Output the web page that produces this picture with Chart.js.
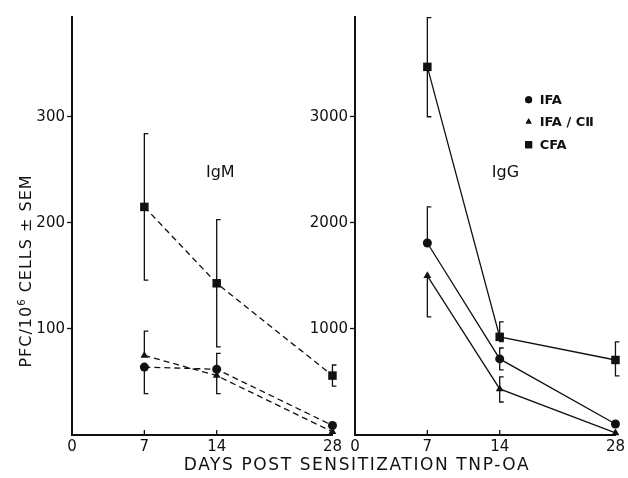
<!DOCTYPE html>
<html><head><meta charset="utf-8">
<script src="https://cdn.jsdelivr.net/npm/chart.js@4.4.0/dist/chart.umd.min.js"></script>
<style>
html,body{margin:0;padding:0;background:#fff;}
#wrap{position:relative;width:628px;height:478px;overflow:hidden;font-family:"DejaVu Sans",sans-serif;color:#111;background:#fff;}
#c1{position:absolute;left:0;top:0;}
#c2{position:absolute;left:300px;top:0;}
#xt{position:absolute;left:0;width:714px;top:454px;text-align:center;font-size:17px;letter-spacing:1.6px;white-space:nowrap;}
#yt{position:absolute;left:-128px;top:261px;width:300px;height:20px;line-height:20px;text-align:center;font-size:16px;letter-spacing:1px;transform:rotate(-90deg);white-space:nowrap;}
</style></head>
<body>
<div id="wrap">
<canvas id="c1" width="345" height="478"></canvas>
<canvas id="c2" width="328" height="478"></canvas>
<div id="yt">PFC/10<sup style="font-size:10px">6</sup> CELLS ± SEM</div>
<div id="xt">DAYS POST SENSITIZATION TNP-OA</div>
</div>
<script>
// ---- data ----
const dayLabels = ['0', '7', '14', '28'];
const dayPos = [0, 1, 2, 3.6];          // axis positions of the day labels (broken time axis)
const sampleDays = [1, 2, 3];           // indexes into dayPos for days 7, 14, 28
const seriesNames = ['IFA', 'IFA / CⅡ', 'CFA'];

const igmIFA      = [64, 62, 9];
const igmIFAHi    = [null, 77, null];
const igmIFALo    = [39, null, null];
const igmIFAC     = [75, 56, 3];
const igmIFACHi   = [98, null, null];
const igmIFACLo   = [null, 39, null];
const igmCFA      = [215, 143, 56];
const igmCFAHi    = [284, 203, 66];
const igmCFALo    = [146, 83, 46];

const iggIFA      = [1810, 717, 104];
const iggIFAHi    = [2150, 820, null];
const iggIFALo    = [null, 613, null];
const iggIFAC     = [1500, 434, 20];
const iggIFACHi   = [null, 547, null];
const iggIFACLo   = [1113, 311, null];
const iggCFA      = [3470, 925, 707];
const iggCFAHi    = [3934, 1066, 877];
const iggCFALo    = [3000, 880, 557];

const igmTicks = [100, 200, 300];
const iggTicks = [1000, 2000, 3000];
const igmMax = 394;
const iggMax = 3940;

// ---- helpers ----
const INK = '#111';
const pts = vals => vals.map((v, i) => ({x: dayPos[sampleDays[i]], y: v}));
const styles = [
  {pointStyle: 'circle', radius: 4.5},
  {pointStyle: 'triangle', radius: 4.5},
  {pointStyle: 'rect', radius: 6}
];
function ds(i, vals, hi, lo, dashed) {
  return {
    label: seriesNames[i], data: pts(vals), errHi: hi, errLo: lo,
    borderColor: INK, backgroundColor: INK, borderWidth: 1.3,
    borderDash: dashed ? [6, 4] : [],
    pointStyle: styles[i].pointStyle, pointRadius: styles[i].radius,
    pointBorderWidth: 0, pointBackgroundColor: INK, tension: 0, clip: false
  };
}

const errorBars = {
  id: 'errorBars',
  beforeDatasetsDraw(chart) {
    const {ctx, scales: {x, y}} = chart;
    ctx.save();
    ctx.strokeStyle = INK; ctx.lineWidth = 1.3;
    chart.data.datasets.forEach(d => {
      d.data.forEach((p, i) => {
        const px = x.getPixelForValue(p.x), py = y.getPixelForValue(p.y);
        [d.errHi[i], d.errLo[i]].forEach(e => {
          if (e == null) return;
          const ey = y.getPixelForValue(e);
          ctx.beginPath();
          ctx.moveTo(px, py); ctx.lineTo(px, ey); ctx.lineTo(px + 4, ey);
          ctx.stroke();
        });
      });
    });
    ctx.restore();
  }
};

const innerTicks = {
  id: 'innerTicks',
  afterDraw(chart) {
    const {ctx, scales: {x}, chartArea} = chart;
    ctx.save(); ctx.strokeStyle = INK; ctx.lineWidth = 1.3;
    dayPos.slice(1).forEach(v => {
      const px = x.getPixelForValue(v);
      ctx.beginPath(); ctx.moveTo(px, chartArea.bottom); ctx.lineTo(px, chartArea.bottom - 5); ctx.stroke();
    });
    ctx.restore();
  }
};

const annot = {
  id: 'annot',
  afterDraw(chart, args, opts) {
    const {ctx, scales: {x, y}} = chart;
    ctx.save();
    ctx.fillStyle = INK;
    ctx.font = '16px "DejaVu Sans"';
    ctx.textAlign = 'center'; ctx.textBaseline = 'middle';
    ctx.fillText(opts.label, x.getPixelForValue(opts.lx), y.getPixelForValue(opts.ly));
    if (opts.legend) {
      ctx.font = 'bold 13px "DejaVu Sans"';
      ctx.textAlign = 'left';
      opts.legend.rows.forEach((ly, i) => {
        const px = x.getPixelForValue(opts.legend.x), py = y.getPixelForValue(ly);
        Chart.helpers.drawPoint(ctx, {pointStyle: styles[i].pointStyle, radius: i === 2 ? 5 : 3.5, borderWidth: 0}, px, py);
        ctx.fill();
        ctx.fillText(seriesNames[i], px + 11, py + 1);
      });
    }
    ctx.restore();
  }
};

function makeChart(id, datasets, yMax, yTicks, yWidth, padRight, annotOpts) {
  return new Chart(document.getElementById(id), {
    type: 'line',
    data: {datasets},
    options: {
      responsive: false, animation: false,
      layout: {padding: {top: 17, right: padRight, left: 0, bottom: 0}},
      plugins: {legend: {display: false}, tooltip: {enabled: false}, annot: annotOpts},
      scales: {
        x: {
          type: 'linear', min: 0, max: dayPos[dayPos.length - 1],
          afterBuildTicks: s => { s.ticks = dayPos.map(v => ({value: v})); },
          afterFit: s => { s.height = 43; },
          ticks: {callback: (v, i) => dayLabels[i], autoSkip: false, maxRotation: 0, padding: 3,
                  color: INK, font: {family: 'DejaVu Sans', size: 15}},
          grid: {display: true, drawOnChartArea: false, drawTicks: false},
          border: {color: INK, width: 2}
        },
        y: {
          min: 0, max: yMax,
          afterBuildTicks: s => { s.ticks = yTicks.map(v => ({value: v})); },
          afterFit: s => { s.width = yWidth; },
          ticks: {callback: v => String(v), color: INK, padding: 2, font: {family: 'DejaVu Sans', size: 15}},
          grid: {display: true, drawOnChartArea: false, tickLength: 5, tickColor: INK, tickWidth: 1.3},
          border: {color: INK, width: 2}
        }
      }
    },
    plugins: [errorBars, innerTicks, annot]
  });
}

makeChart('c1', [
  ds(0, igmIFA, igmIFAHi, igmIFALo, true),
  ds(1, igmIFAC, igmIFACHi, igmIFACLo, true),
  ds(2, igmCFA, igmCFAHi, igmCFALo, true)
], igmMax, igmTicks, 72, 12, {label: 'IgM', lx: 2.05, ly: 247});

makeChart('c2', [
  ds(0, iggIFA, iggIFAHi, iggIFALo, false),
  ds(1, iggIFAC, iggIFACHi, iggIFACLo, false),
  ds(2, iggCFA, iggCFAHi, iggCFALo, false)
], iggMax, iggTicks, 55, 10, {label: 'IgG', lx: 2.08, ly: 2470,
  legend: {x: 2.4, rows: [3160, 2953, 2736]}});
</script>
</body></html>
